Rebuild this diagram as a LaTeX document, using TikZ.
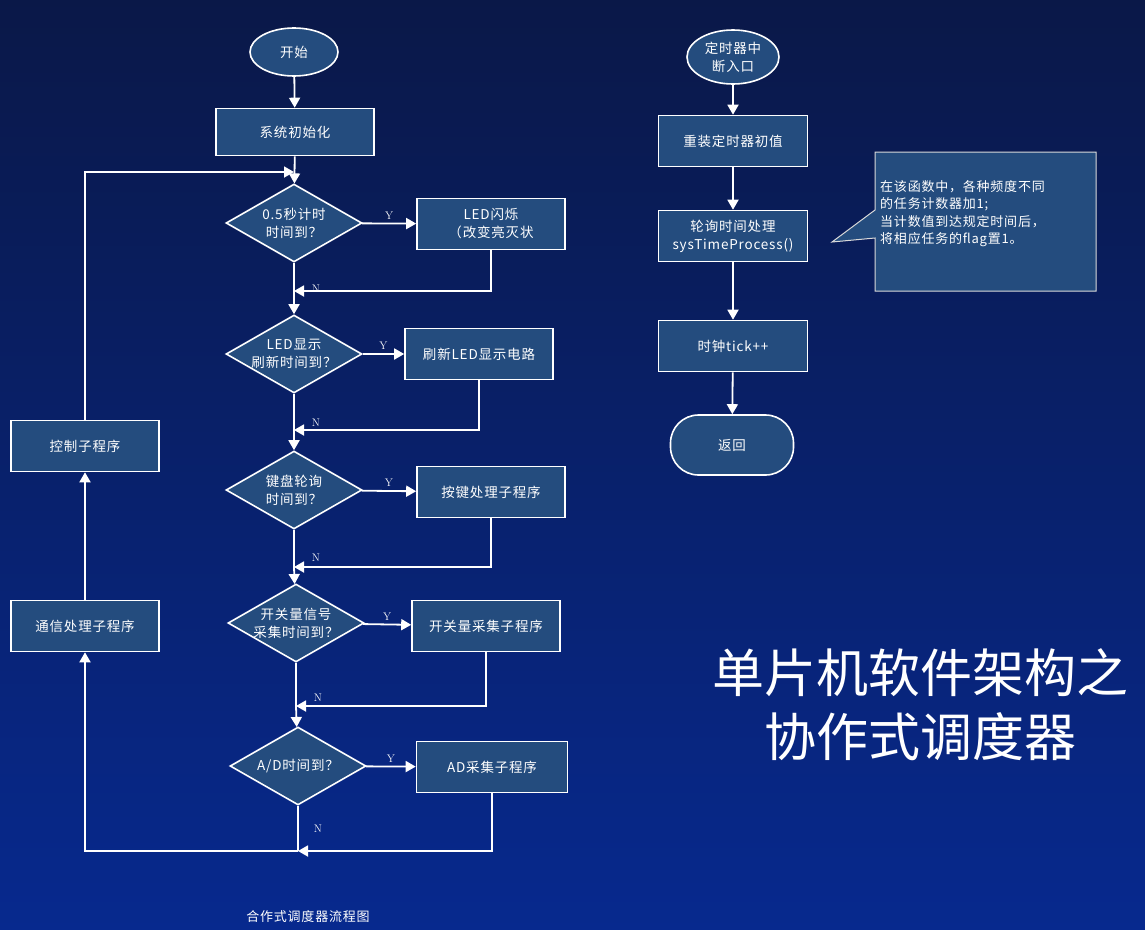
\documentclass[tikz,border=0pt]{standalone}
\usepackage{fontspec}
\newfontfamily\cjk[LetterSpace=6]{Noto Sans CJK SC}
\newfontfamily\cjktitle{Noto Sans CJK SC}
\usetikzlibrary{shapes.geometric,arrows.meta,positioning}
\definecolor{bgtop}{HTML}{0A1848}
\definecolor{bgbot}{HTML}{07298E}
\definecolor{boxfill}{HTML}{244C7E}
\tikzset{
  base/.style={draw=white,line width=1.6pt,fill=boxfill,text=white,font=\cjk\fontsize{13.5}{18}\selectfont,align=center},
  proc/.style={base,rectangle,minimum width=148pt,minimum height=51pt,inner sep=2pt},
  dec/.style={base,diamond,aspect=1.75,inner sep=-5pt,minimum width=136pt,minimum height=78pt},
  term/.style={base,ellipse,inner sep=0pt},
  flow/.style={white,line width=1.8pt,-{Triangle[length=10pt,width=11pt]}},
  line/.style={white,line width=1.8pt},
  yn/.style={text=white,font=\fontsize{11}{12}\selectfont}
}
\begin{document}
\begin{tikzpicture}[x=1pt,y=-1pt]
  \shade[top color=bgtop,bottom color=bgbot] (0,0) rectangle (1145,929);
  \useasboundingbox (0,0) rectangle (1145,929);

  % main loop
  \node[term,minimum width=88pt,minimum height=48pt] (start) at (294,52) {开始};
  \node[proc,minimum width=158pt,minimum height=47pt] (init) at (295,132) {系统初始化};
  \node[dec] (d1) at (294,223) {0.5秒计时\\时间到？};
  \node[proc] (b1) at (491,224) {LED闪烁\\（改变亮灭状};
  \node[dec] (d2) at (294,354) {LED显示\\刷新时间到？};
  \node[proc] (b2) at (479,354) {刷新LED显示电路};
  \node[dec] (d3) at (294,490) {键盘轮询\\时间到？};
  \node[proc] (b3) at (491,492) {按键处理子程序};
  \node[dec] (d4) at (296,623) {开关量信号\\采集时间到？};
  \node[proc] (b4) at (486,626) {开关量采集子程序};
  \node[dec] (d5) at (298,766) {A/D时间到？};
  \node[proc,minimum width=151pt] (b5) at (492,767) {AD采集子程序};
  \node[proc] (comm) at (85,626) {通信处理子程序};
  \node[proc] (ctrl) at (85,446) {控制子程序};

  \coordinate (m1) at (294,291);
  \coordinate (m2) at (294,430);
  \coordinate (m3) at (294,567);
  \coordinate (m4) at (296,706);
  \coordinate (m5) at (298,851);
  \coordinate (loop) at (294,172);

  \draw[flow] (start) -- (init);
  \draw[flow] (init) -- (d1);
  \draw[flow] (d1) -- node[yn,above] {Y} (b1);
  \draw[flow] (d2) -- node[yn,above] {Y} (b2);
  \draw[flow] (d3) -- node[yn,above] {Y} (b3);
  \draw[flow] (d4) -- node[yn,above] {Y} (b4);
  \draw[flow] (d5) -- node[yn,above] {Y} (b5);
  \draw[flow] (b1.south) |- (m1);
  \draw[flow] (b2.south) |- (m2);
  \draw[flow] (b3.south) |- (m3);
  \draw[flow] (b4.south) |- (m4);
  \draw[flow] (b5.south) |- (m5);
  \draw[flow] (d1) -- (m1) -- (d2);
  \draw[flow] (d2) -- (m2) -- (d3);
  \draw[flow] (d3) -- (m3) -- (d4);
  \draw[flow] (d4) -- (m4) -- (d5);
  \draw[line] (d5) -- (m5);
  \node[yn] at (316,289) {N};
  \node[yn] at (316,423) {N};
  \node[yn] at (316,558) {N};
  \node[yn] at (318,698) {N};
  \node[yn] at (318,829) {N};
  \draw[flow] (m5) -| (comm.south);
  \draw[flow] (comm) -- (ctrl);
  \draw[flow] (ctrl.north) |- (loop);

  % timer interrupt
  \node[term,minimum width=92pt,minimum height=54pt] (tstart) at (733,57) {定时器中\\断入口};
  \node[proc,minimum width=149pt] (reload) at (733,141) {重装定时器初值};
  \node[proc,minimum width=149pt] (poll) at (733,236) {轮询时间处理\\sysTimeProcess()};
  \node[proc,minimum width=149pt] (tick) at (733,346) {时钟tick++};
  \node[base,rectangle,rounded corners=28pt,minimum width=123pt,minimum height=60pt] (ret) at (732,445) {返回};
  \draw[flow] (tstart) -- (reload);
  \draw[flow] (reload) -- (poll);
  \draw[flow] (poll) -- (tick);
  \draw[flow] (tick) -- (ret);

  % callout
  \coordinate (tip) at (832,242);
  \draw[line width=1pt,draw=white!85!black,fill=boxfill]
    (875,152) -- (1096,152) -- (1096,291) -- (875,291) -- (875,238) -- (tip) -- (875,210) -- cycle;
  \node[text=white,font=\cjk\fontsize{13}{17.5}\selectfont,align=left,anchor=north west,inner sep=0pt] (note) at (880,180)
    {在该函数中，各种频度不同\\的任务计数器加1;\\当计数值到达规定时间后，\\将相应任务的flag置1。};

  % titles
  \node[text=white,font=\cjktitle\fontsize{52}{64}\selectfont,align=center] (title) at (920,705) {单片机软件架构之\\协作式调度器};
  \node[text=white,font=\cjk\fontsize{13}{14}\selectfont] (caption) at (308,917) {合作式调度器流程图};
\end{tikzpicture}
\end{document}
